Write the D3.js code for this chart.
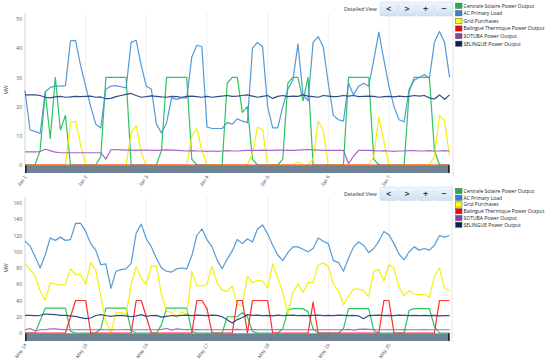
<!DOCTYPE html>
<html>
<head>
<meta charset="utf-8">
<script src="https://cdn.jsdelivr.net/npm/d3@7"></script>
<style>
  body { margin: 0; background: #fff; }
  svg { font-family: "Open Sans", sans-serif; }
</style>
</head>
<body>
<div id="chart"></div>
<script>
// hours since start of each week, one point every 2 hours
var hours = [0,2,4,6,8,10,12,14,16,18,20,22, 24,26,28,30,32,34,36,38,40,42,44,46,
  48,50,52,54,56,58,60,62,64,66,68,70, 72,74,76,78,80,82,84,86,88,90,92,94,
  96,98,100,102,104,106,108,110,112,114,116,118, 120,122,124,126,128,130,132,134,136,138,140,142,
  144,146,148,150,152,154,156,158,160,162,164,166, 168];

var dayHours = [0, 24, 48, 72, 96, 120, 144];
var topDays = ["Jan 1", "Jan 2", "Jan 3", "Jan 4", "Jan 5", "Jan 6", "Jan 7"];
var bottomDays = ["May 14", "May 15", "May 16", "May 17", "May 18", "May 19", "May 20"];

var seriesNames = ["Centrale Solaire Power Output", "AC Primary Load", "Grid Purchases",
  "Balingué Thermique Power Output", "SOTUBA Power Output", "SELINGUE Power Output"];
var swatchColors = ["#1db44c", "#2f86cc", "#ffff00", "#ff0000", "#8a3fb5", "#0c1f5e"];
var lineColors = ["#22c15a", "#4a95d6", "#f0f000", "#ff2020", "#a35ec9", "#27427f"];

// ---- week 1 (January) ----
var topSolar = [0,0,0,5,25,9,30,12,17,0,0,0, 0,0,0,3,30,30,30,30,30,0,0,0,
  0,0,0,5,30,30,30,30,30,2,0,0, 0,0,0,0,28,30,30,18,20,2,0,0,
  0,0,0,2,28,30,30,22,30,0,0,0, 0,0,0,0,30,30,30,30,30,2,0,0,
  0,0,0,0,25,30,30,30,30,5,0,0, 0];
var topLoad = [25.5,12,11.5,10.8,25,26.6,27,27,27.2,42.5,42.7,34,
  27,20,14,12.7,26,27,27.2,26.8,26.4,42,42.7,34,
  27,26,14,11,14.4,23,22.5,23,23,37,41,40.5,
  13,12.5,12.5,12.5,14.5,14,15.8,15,14.5,40,42,40.5,
  20,12.7,12.7,20,26,29,41.5,24,22,42,44,40.5,
  28,17,15.5,15,28,24,27,28,27,36,45.5,36,
  27,20,15.5,14.8,26,29,30,31,29.7,42,45.7,42, 30];
var topGrid = [0,0,0,0,0,0,0,0,0,14.5,15,7, 0,0,0,0,0,0,0,0,0,11,13.5,4,
  0,0,0,0,0,0,0,0,0,10,12.5,5, 0,0,0,0,0,0,0,0,0,4,13,12,
  0,0,0,0,0,0,1,0,0,2,15,12, 0,0,0,0,0,0,0,0,0,3,16.5,8,
  0,0,0,0,0,0,0,0,0,3,17,15, 3];
var topBalingue = [0,0,0,0,0,0,0,0,0,0,0,0, 0,0,0,0,0,0,0,0,0,0,0,0,
  0,0,0,0,0,0,0,0,0,0,0,0, 0,0,0,0,0,0,0,0,0,0,0,0,
  0,0,0,0,0,0,0,0,0,0,0,0, 0,0,0,0,0,0,0,0,0,0,0,0,
  0,0,0,0,0,0,0,0,0,0,0,0, 0];
var topSotuba = [4.5,4.5,4.5,4.6,5.4,4.9,4.4,4.2,4.2,4.2,4.2,4.2,
  4.2,4.2,4.2,4.2,2,5.2,5.3,5.2,5.1,5.1,5,5.1,
  5.1,5,5,5.1,5.2,5.1,5,4.9,4.8,4.9,4.8,4.8,
  4.7,4.8,4.7,4.8,4.9,4.8,4.8,4.9,5,5,5,5.1,
  5,5,5.1,5.1,5,5,5.1,5.2,5.3,5.2,5.1,5,
  5,5,5,5,0.5,3,5,5,5,4.9,4.8,4.9,
  4.8,4.7,4.8,4.8,4.9,4.9,4.8,4.8,4.9,4.8,4.8,4.9, 4.8];
var topSelingue = [24,24,24,23.8,23.2,23,23.3,23.5,23.2,23.3,23.5,23.4,
  23.5,23.6,23.2,23.3,22.7,22.8,23.4,23.8,24.2,24.5,23.8,23.2,
  23.4,23.7,23.5,23.3,23.2,23.5,23.4,23.2,23.5,23.6,23.4,23.2,
  23.5,23.2,23.4,23.6,23.8,23.5,23.6,23.8,24,23.6,23.2,23.5,
  23.8,22.8,23.5,23.8,23.4,23.6,23.5,24,23.6,23.4,23.2,23.8,
  23.6,23.4,23.5,23.8,23.6,23.8,23.4,23.5,23.6,23.5,23.2,23.4,
  23.5,23.3,23.6,23.4,23.5,23.8,23.6,23.8,23,22.6,24,22.5, 24];

// ---- week 2 (May) ----
var botSolar = [0,0,0,15,30.5,30.5,30.5,30.5,30.5,2,0,0,
  0,0,0,5,30.5,30.5,30.5,30.5,30.5,3,0,0,
  0,0,0,10,30.5,30.5,30.5,30.5,30.5,2,0,0,
  0,0,0,0,20,20,20,25,20,2,0,0,
  0,0,0,5,28,30,30,30,26,5,0,0,
  0,0,0,5,30,30,30,30,30,3,0,0,
  0,0,0,0,28,30,30,30,30,8,0,0, 0];
var botLoad = [113,107,94,80,96,117,114,118,114,115,135,135,
  125,110,102,84,85,55,76,78,79,86,123,134,
  116,106,92,80,76,75,79,80,79,95,120,128,
  115,106,90,79,91,101,115,110,116,112,128,133,
  122,108,96,89,99,106,106,103,100,104,117,113,
  110,89,87,76,92,106,112,108,99,104,113,125,
  121,110,97,90,100,106,102,104,102,108,120,118, 120];
var botGrid = [86,78,70,52,40,62,60,59,60,79,72,72,
  60,87,77,45,15,0,25,25,23,60,82,67,
  60,83,82,48,27,25,20,26,22,75,58,58,
  60,82,62,53,51,58,35,33,70,62,65,64,
  55,85,68,50,24,50,60,50,62,62,84,86,
  82,60,52,35,45,54,54,52,45,76,78,64,
  84,80,56,46,52,48,47,48,44,70,80,55, 52];
var botBalingue = [0,0,0,0,0,0,0,0,0,20,40,40,
  40,0,0,0,0,0,0,0,0,0,40,40,
  20,0,0,0,0,0,0,0,0,0,40,40,
  30,0,0,0,0,0,40,40,0,40,40,40,
  40,0,0,0,0,0,0,0,0,38,0,0,
  0,0,0,0,0,0,0,0,0,0,0,40,
  40,0,0,0,0,0,0,0,0,0,40,40, 40];
var botSotuba = [4,5.5,2.8,4,4,5,5,4.5,4.2,4,4,4,
  4,4,4,4.2,4,4,4,4,4.2,4,4,4,
  4,4,4,4.5,5.5,3.5,5,4.5,4.2,4,4.2,4,
  4,4,4,4,4.2,4,4.5,4,4,4.2,4,4,
  4,4,4.2,4,4,4,4,4,4,4.2,4,4,
  4,4,4,4,4.5,3.5,4.5,4.8,4.5,4.2,4,4,
  4,4,4,4.2,4,4,4,4.2,4,4,4,4, 4];
var botSelingue = [21.7,21.7,21.5,21.8,23.4,23,22.5,21.8,21.7,21,20.5,19,
  17.6,18.5,21.5,22.6,21.5,20.5,21.5,21.7,21,20,21,22.6,
  20.5,21.5,21.7,19.5,20.5,21.5,21,21.7,22,21.5,22,21.7,
  21.5,22,21.7,20,16.4,12.3,16.5,19,22.6,21.7,22,21.5,
  21.7,21,22,21.5,21.7,22,21.5,21.7,21.5,21.7,22,21.5,
  21.7,21.5,22,21.7,21.5,21.7,21,17.6,21.5,21.7,22,21.5,
  21.7,21.5,22,21.7,21.5,21.7,21.5,21.7,21.5,21.7,21,21.5, 21.5];

var svg = d3.select("#chart").append("svg")
    .attr("width", 550)
    .attr("height", 361);

var defs = svg.append("defs");
var grad = defs.append("linearGradient").attr("id", "btnGrad")
    .attr("x1", 0).attr("y1", 0).attr("x2", 0).attr("y2", 1);
grad.append("stop").attr("offset", "0%").attr("stop-color", "#f2f7fc");
grad.append("stop").attr("offset", "100%").attr("stop-color", "#cfe0f1");

var xScale = d3.scaleLinear().domain([0, 168]).range([25, 449.6]);

function drawPanel(p) {
    var g = svg.append("g");

    var yScale = d3.scaleLinear().domain([0, p.yMax]).range([p.yBottom, p.yTop]);

    // day grid lines
    g.selectAll(".grid").data(dayHours.slice(1)).enter().append("line")
        .attr("x1", d => xScale(d)).attr("x2", d => xScale(d))
        .attr("y1", p.gridTop).attr("y2", p.yBottom)
        .attr("stroke", "#ececec").attr("stroke-width", 0.8);

    // right border
    g.append("line")
        .attr("x1", p.borderX).attr("x2", p.borderX)
        .attr("y1", p.borderTop).attr("y2", p.borderBottom)
        .attr("stroke", "#dcdcdc").attr("stroke-width", 0.8);

    var yAxis = d3.axisLeft(yScale).tickValues(p.yTicks).tickSize(0).tickPadding(3);
    var ya = g.append("g").attr("transform", "translate(25,0)").call(yAxis);
    ya.select(".domain").attr("stroke", "#d4d4d4").attr("d", `M0,${p.yBottom}V${p.gridTop}`);
    ya.selectAll("text").attr("font-size", "5px").attr("fill", "#555")
        .style("font-family", "Open Sans");

    g.append("text")
        .attr("transform", `translate(8, ${p.mwY}) rotate(-90)`)
        .attr("text-anchor", "middle")
        .attr("font-size", "5px")
        .attr("fill", "#444")
        .text("MW");

    // lines
    var line = d3.line()
        .x((d, i) => xScale(hours[i]))
        .y(d => yScale(d));

    p.series.forEach(function (vals, k) {
        g.append("path")
            .datum(vals)
            .attr("fill", "none")
            .attr("stroke", lineColors[k])
            .attr("stroke-width", 1.2)
            .attr("stroke-opacity", 0.95)
            .attr("stroke-linejoin", "round")
            .attr("d", line);
    });

    // scrollbar (covers the lower half of the zero line)
    g.append("rect")
        .attr("x", 25).attr("y", p.yBottom + 0.3)
        .attr("width", 424.6).attr("height", 7.7)
        .attr("fill", "#6e8292");
    g.append("rect").attr("x", 25).attr("y", p.yBottom + 0.3)
        .attr("width", 1.6).attr("height", 7.7).attr("fill", "#1d2530");
    g.append("rect").attr("x", 448).attr("y", p.yBottom + 0.3)
        .attr("width", 1.6).attr("height", 7.7).attr("fill", "#1d2530");

    // x labels
    var xAxis = d3.axisBottom(xScale).tickValues(dayHours)
        .tickFormat((d, i) => p.days[i]).tickSize(0);
    var xa = g.append("g").attr("transform", `translate(0, ${p.labelY})`).call(xAxis);
    xa.select(".domain").remove();
    xa.selectAll("text")
        .attr("x", 0).attr("y", 0).attr("dy", "0.35em")
        .attr("transform", "rotate(-55)")
        .style("text-anchor", "end")
        .attr("font-size", "5px")
        .attr("fill", "#555");

    // detailed view + buttons
    g.append("text")
        .attr("x", 344).attr("y", p.btnY + 8.5)
        .attr("font-size", "5.2px")
        .attr("fill", "#333")
        .text("Detailed View");

    var glyphs = ["<", ">", "+", "\u2212"];
    glyphs.forEach(function (s, i) {
        var bx = 380 + i * 18.4;
        g.append("rect")
            .attr("x", bx).attr("y", p.btnY)
            .attr("width", 17.4).attr("height", p.btnH)
            .attr("rx", 1.5)
            .attr("fill", "url(#btnGrad)")
            .attr("stroke", "#c3d5e8").attr("stroke-width", 0.5);
        g.append("text")
            .attr("x", bx + 8.7).attr("y", p.btnY + p.btnH / 2 + 3)
            .attr("text-anchor", "middle")
            .attr("font-size", "9px")
            .attr("font-weight", "bold")
            .attr("fill", "#2c3e5a")
            .text(s);
    });

    // legend
    var lg = g.append("g");
    seriesNames.forEach(function (name, k) {
        var ly = p.legendY + k * p.legendStep;
        lg.append("rect")
            .attr("x", 455.5).attr("y", ly - 2.6)
            .attr("width", 6.5).attr("height", 5.2)
            .attr("fill", swatchColors[k])
            .attr("stroke", "#555").attr("stroke-width", 0.5);
        lg.append("text")
            .attr("x", 463.5).attr("y", ly + 1.8)
            .attr("font-size", "5px")
            .attr("fill", "#222")
            .text(name);
    });
}

drawPanel({
    yMax: 50, yTop: 19, yBottom: 165, gridTop: 13,
    yTicks: [0, 10, 20, 30, 40, 50],
    mwY: 90, labelY: 176,
    borderX: 453, borderTop: 0, borderBottom: 176,
    btnY: 2, btnH: 14,
    legendY: 5.7, legendStep: 7.6,
    days: topDays,
    series: [topSolar, topLoad, topGrid, topBalingue, topSotuba, topSelingue]
});

drawPanel({
    yMax: 160, yTop: 203, yBottom: 333, gridTop: 197,
    yTicks: [0, 20, 40, 60, 80, 100, 120, 140, 160],
    mwY: 268, labelY: 344,
    borderX: 452, borderTop: 184, borderBottom: 342,
    btnY: 187, btnH: 13.5,
    legendY: 191, legendStep: 6.75,
    days: bottomDays,
    series: [botSolar, botLoad, botGrid, botBalingue, botSotuba, botSelingue]
});
</script>
</body>
</html>
